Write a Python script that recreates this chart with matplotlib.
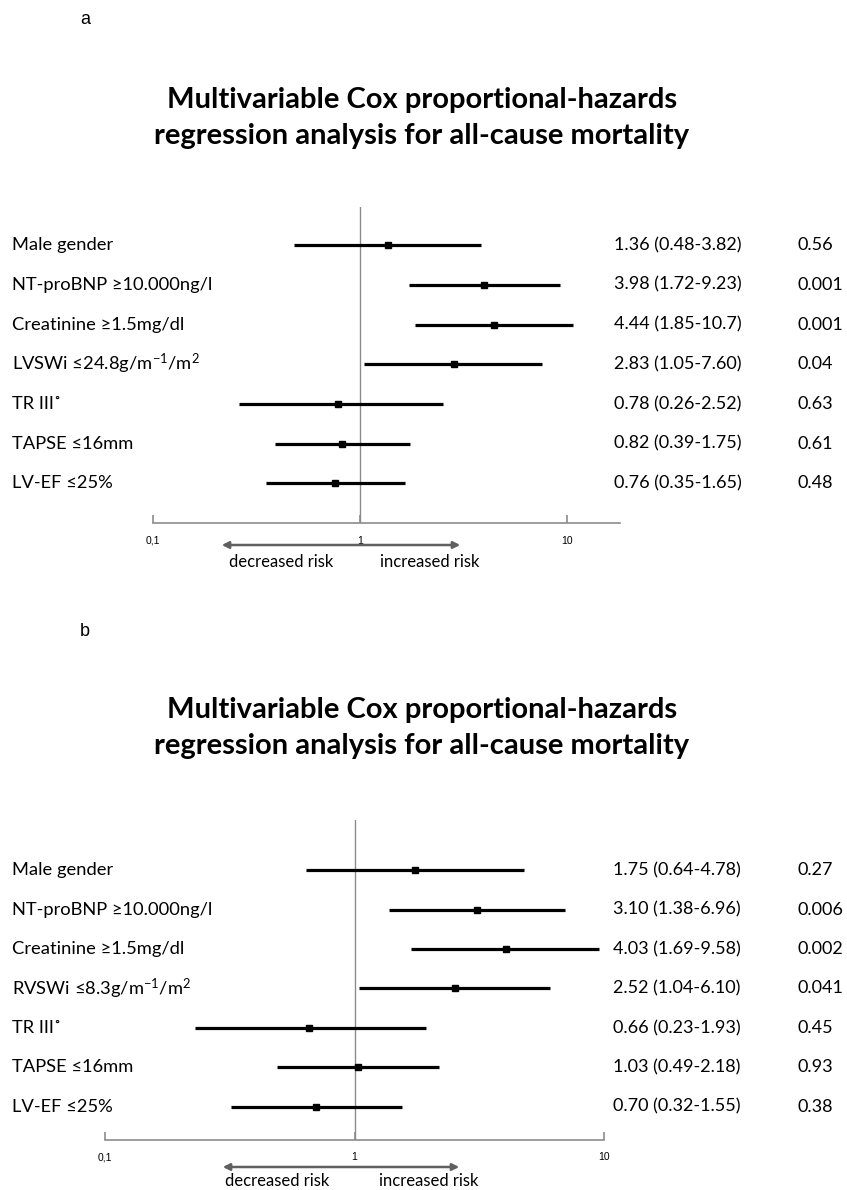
import matplotlib
matplotlib.use("Agg")
import matplotlib.pyplot as plt
from matplotlib.transforms import blended_transform_factory
import numpy as np

plt.rcParams['font.family'] = ['Lato', 'DejaVu Sans']
plt.rcParams['mathtext.fontset'] = 'custom'
plt.rcParams['mathtext.rm'] = 'Lato'
plt.rcParams['mathtext.it'] = 'Lato'

# ---------------- data ----------------
labels_a = ["Male gender", "NT-proBNP \u226510.000ng/l", "Creatinine \u22651.5mg/dl",
            "LVSWi \u226424.8g/m$^{-1}$/m$^{2}$", "TR III\u02da", "TAPSE \u226416mm", "LV-EF \u226425%"]
hr_a = [1.36, 3.98, 4.44, 2.83, 0.78, 0.82, 0.76]
lo_a = [0.48, 1.72, 1.85, 1.05, 0.26, 0.39, 0.35]
hi_a = [3.82, 9.23, 10.7, 7.60, 2.52, 1.75, 1.65]
ci_text_a = ["1.36 (0.48-3.82)", "3.98 (1.72-9.23)", "4.44 (1.85-10.7)", "2.83 (1.05-7.60)",
             "0.78 (0.26-2.52)", "0.82 (0.39-1.75)", "0.76 (0.35-1.65)"]
p_a = ["0.56", "0.001", "0.001", "0.04", "0.63", "0.61", "0.48"]

labels_b = ["Male gender", "NT-proBNP \u226510.000ng/l", "Creatinine \u22651.5mg/dl",
            "RVSWi \u22648.3g/m$^{-1}$/m$^{2}$", "TR III\u02da", "TAPSE \u226416mm", "LV-EF \u226425%"]
hr_b = [1.75, 3.10, 4.03, 2.52, 0.66, 1.03, 0.70]
lo_b = [0.64, 1.38, 1.69, 1.04, 0.23, 0.49, 0.32]
hi_b = [4.78, 6.96, 9.58, 6.10, 1.93, 2.18, 1.55]
ci_text_b = ["1.75 (0.64-4.78)", "3.10 (1.38-6.96)", "4.03 (1.69-9.58)", "2.52 (1.04-6.10)",
             "0.66 (0.23-1.93)", "1.03 (0.49-2.18)", "0.70 (0.32-1.55)"]
p_b = ["0.27", "0.006", "0.002", "0.041", "0.45", "0.93", "0.38"]

tick_vals = [0.1, 1, 10]
tick_labels = ["0,1", "1", "10"]
title = "Multivariable Cox proportional-hazards\nregression analysis for all-cause mortality"

W, H = 847, 1190
fig = plt.figure(figsize=(W / 100, H / 100), dpi=100)
fig.patch.set_facecolor("white")


def fx(px):
    return px / W


def fy(py):
    return 1 - py / H


def panel(letter, letter_y, title_y, ax_left, ax_right, ax_top, ax_bottom, xmax, ylim,
          labels, hr, lo, hi, ci_text, pvals, ci_x, p_x, arrow_y, arrow_x0, arrow_x1,
          risk_y, dec_x, inc_x):
    fig.text(fx(85), fy(letter_y), letter, fontsize=13, ha="center", va="center",
             family=["Liberation Sans", "DejaVu Sans"])
    fig.text(fx(422), fy(title_y), title, fontsize=21, fontweight="bold",
             ha="center", va="center", linespacing=1.5)
    ax = fig.add_axes([fx(ax_left), fy(ax_bottom), fx(ax_right) - fx(ax_left),
                       fy(ax_top) - fy(ax_bottom)])
    ax.set_xscale("log")
    ax.set_xlim(0.1, xmax)
    ax.set_ylim(*ylim)
    ax.patch.set_alpha(0)
    for s in ["top", "right", "left"]:
        ax.spines[s].set_visible(False)
    ax.spines["bottom"].set_color("#8c8c8c")
    ax.spines["bottom"].set_linewidth(1.2)
    ax.set_yticks([])
    ax.set_xticks(tick_vals)
    ax.set_xticklabels(tick_labels, family=["Liberation Sans Narrow", "Liberation Sans"])
    ax.xaxis.set_minor_locator(matplotlib.ticker.NullLocator())
    ax.tick_params(axis="x", direction="in", length=6, width=1.2, color="#8c8c8c",
                   labelsize=7.5, pad=9)
    ax.axvline(1, color="#8c8c8c", lw=1.0, zorder=1)
    ys = np.arange(len(labels))
    ax.hlines(ys, lo, hi, color="black", lw=2.3, zorder=2)
    ax.plot(hr, ys, "s", color="black", ms=5, zorder=3)
    tr = blended_transform_factory(fig.transFigure, ax.transData)
    for i in range(len(labels)):
        ax.text(fx(12), ys[i], labels[i], transform=tr, fontsize=13.2, ha="left",
                va="center", clip_on=False)
        ax.text(fx(ci_x), ys[i], ci_text[i], transform=tr, fontsize=13, ha="left",
                va="center", clip_on=False)
        ax.text(fx(p_x), ys[i], pvals[i], transform=tr, fontsize=13, ha="left",
                va="center", clip_on=False)
    fig.patches.append(matplotlib.patches.FancyArrowPatch(
        (fx(arrow_x0), fy(arrow_y)), (fx(arrow_x1), fy(arrow_y)),
        transform=fig.transFigure, arrowstyle="<|-|>", mutation_scale=10,
        color="#606060", lw=1.8))
    fig.text(fx(dec_x), fy(risk_y), "decreased risk", fontsize=12, ha="center", va="center")
    fig.text(fx(inc_x), fy(risk_y), "increased risk", fontsize=12, ha="center", va="center")
    return ax


panel("a", 20, 118, 153, 620, 207, 523, 18.0, (7.0, -0.96),
      labels_a, hr_a, lo_a, hi_a, ci_text_a, p_a, 614, 797,
      545, 219, 463, 562, 281, 430)
panel("b", 632, 728, 105, 604, 820, 1140, 10.0, (6.84, -1.27),
      labels_b, hr_b, lo_b, hi_b, ci_text_b, p_b, 613, 797,
      1167, 220, 462, 1181, 277, 429)

fig.savefig("out.png", dpi=100, facecolor="white")
